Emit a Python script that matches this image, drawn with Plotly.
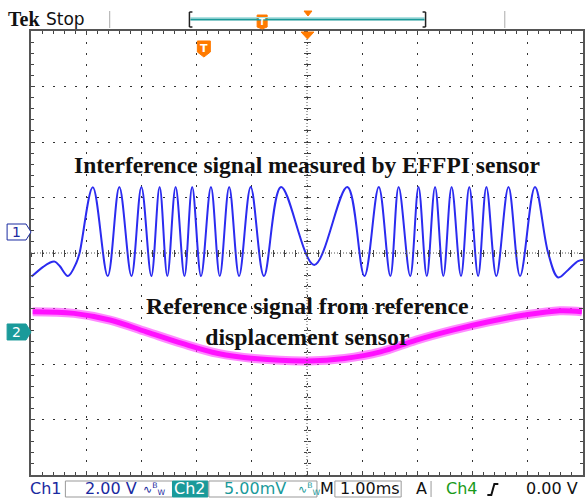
import plotly.graph_objects as go

W, H = 587, 499
L, R, T, B = 31, 585, 31, 475  # graticule edges on the page (px)

# Ch1: interference signal measured by the EFFPI sensor (time in ms, volts)
ch1_t = [-4.99, -4.78, -4.66, -4.57, -4.48, -4.33, -4.18, -4.12, -3.88, -3.61,
         -3.40, -3.18, -3.00, -2.82, -2.67, -2.53, -2.38, -2.22, -2.08, -1.92,
         -1.74, -1.58, -1.41, -1.23, -1.02, -0.78, -0.47, 0.13, 0.73, 1.04,
         1.30, 1.51, 1.66, 1.87, 2.02, 2.17, 2.32, 2.47, 2.62, 2.79,
         2.94, 3.10, 3.25, 3.43, 3.65, 3.86, 4.13, 4.37, 4.55, 4.73, 4.91, 5.00]
ch1_v = [-1.62, -1.27, -1.12, -1.08, -1.24, -1.60, -1.13, -0.77, 1.60, -1.60,
         1.61, -1.60, 1.61, -1.60, 1.61, -1.60, 1.61, -1.60, 1.61, -1.60,
         1.61, -1.60, 1.61, -1.60, 1.61, -1.60, 1.61, -1.20, 1.61, -1.60,
         1.61, -1.60, 1.61, -1.60, 1.61, -1.60, 1.61, -1.60, 1.61, -1.60,
         1.61, -1.60, 1.61, -1.60, 1.61, -1.60, 1.61, -0.78, -1.65, -1.38, -1.06, -1.02]

# Ch2: reference displacement sensor (time in ms, mV)
ch2_t = [-4.97, -4.22, -3.57, -2.91, -2.26, -1.61, -0.96, 0.02, 0.68, 1.33,
         1.98, 2.64, 3.29, 3.94, 4.58, 4.98]
ch2_v = [1.81, 1.66, 1.06, 0.00, -1.05, -1.95, -2.40, -2.62, -2.40, -1.81,
         -0.75, 0.15, 0.90, 1.51, 1.90, 1.81]

ch1_scale, ch1_pos = 2.0, 0.385   # V/div, ground marker position (div)
ch2_scale, ch2_pos = 5.0, -1.42   # mV/div

BLUE = "#2b2bf0"
MAGENTA = "#ff10ff"
TEAL = "#1a9a9a"
ORANGE = "#ff7a00"
DARK_BLUE = "#1a2aa0"
GREEN = "#1a9a1a"


def fx(p):
    return (p - L) / (R - L)


def fy(p):
    return (B - p) / (B - T)


fig = go.Figure()
fig.add_trace(go.Scatter(x=ch2_t, y=ch2_v, yaxis="y2", mode="lines",
                         line=dict(color="rgba(255,60,255,0.6)", width=9, shape="spline"),
                         hoverinfo="skip"))
fig.add_trace(go.Scatter(x=ch2_t, y=ch2_v, yaxis="y2", mode="lines",
                         line=dict(color=MAGENTA, width=5, shape="spline")))
fig.add_trace(go.Scatter(x=ch1_t, y=ch1_v, mode="lines",
                         line=dict(color=BLUE, width=2, shape="spline")))
# empty traces so the centre-cross tick axes get drawn
for xa, ya in [("x2", "y"), ("x3", "y"), ("x", "y3"), ("x", "y4")]:
    fig.add_trace(go.Scatter(x=[], y=[], xaxis=xa, yaxis=ya))

c1 = -ch1_pos * ch1_scale
c2 = -ch2_pos * ch2_scale
edge = dict(showticklabels=False, zeroline=False, showline=True, linecolor="#555",
            linewidth=2, mirror="ticks", ticks="inside", ticklen=4, tickcolor="#444",
            showgrid=True, gridcolor="#333", gridwidth=1, griddash="2px,9px")
fig.update_layout(
    width=W, height=H, margin=dict(l=L, r=W - R, t=T, b=H - B),
    paper_bgcolor="white", plot_bgcolor="white", showlegend=False,
    xaxis=dict(range=[-5, 5], tick0=0, dtick=1,
               minor=dict(tick0=0, dtick=0.2, ticks="inside", ticklen=3, tickcolor="#444"), **edge),
    yaxis=dict(range=[c1 - 4 * ch1_scale, c1 + 4 * ch1_scale], tick0=c1, dtick=ch1_scale,
               minor=dict(tick0=c1, dtick=ch1_scale / 5, ticks="inside", ticklen=3, tickcolor="#444"),
               **edge),
    yaxis2=dict(range=[c2 - 4 * ch2_scale, c2 + 4 * ch2_scale], overlaying="y",
                visible=False),
)
cross = dict(showticklabels=False, showgrid=False, zeroline=False, showline=False,
             ticklen=3, tickcolor="#444", anchor="free", position=0.5)
fig.update_layout(
    xaxis2=dict(overlaying="x", range=[-5, 5], tick0=0, dtick=0.2, ticks="outside", **cross),
    xaxis3=dict(overlaying="x", range=[-5, 5], tick0=0, dtick=0.2, ticks="inside", **cross),
    yaxis3=dict(overlaying="y", range=[-4, 4], tick0=0, dtick=0.2, ticks="outside", **cross),
    yaxis4=dict(overlaying="y", range=[-4, 4], tick0=0, dtick=0.2, ticks="inside", **cross),
)

shapes = [
    # centre cross lines
    dict(type="line", xref="paper", yref="paper", x0=0.5, x1=0.5, y0=0, y1=1,
         line=dict(color="#555", width=1, dash="1px,2px")),
    dict(type="line", xref="paper", yref="paper", x0=0, x1=1, y0=0.5, y1=0.5,
         line=dict(color="#555", width=1, dash="1px,2px")),
]


def path(pts, fill, line, width=1):
    d = "M " + " L ".join(f"{fx(a):.4f},{fy(b):.4f}" for a, b in pts) + " Z"
    return dict(type="path", xref="paper", yref="paper", path=d, fillcolor=fill,
                line=dict(color=line, width=width), layer="above")


def box(x0, y0, x1, y1, fill="rgba(0,0,0,0)", line="#999"):
    return dict(type="rect", xref="paper", yref="paper", x0=fx(x0), x1=fx(x1),
                y0=fy(y1), y1=fy(y0), fillcolor=fill, line=dict(color=line, width=1))


def seg(x0, y0, x1, y1, color, width=1):
    return dict(type="line", xref="paper", yref="paper", x0=fx(x0), x1=fx(x1),
                y0=fy(y0), y1=fy(y1), line=dict(color=color, width=width))


# channel ground markers
shapes.append(path([(7, 224), (26, 224), (31, 232), (26, 240), (7, 240)], "white", DARK_BLUE))
shapes.append(path([(7, 324), (26, 324), (31, 332), (26, 340), (7, 340)], TEAL, TEAL))
# trigger markers
shapes.append(path([(198, 41), (211, 41), (211, 52), (204.5, 57), (198, 52)], ORANGE, ORANGE))
shapes.append(path([(302, 32), (315, 32), (308.5, 39)], ORANGE, ORANGE))
shapes.append(path([(305, 11), (313, 11), (309, 16)], ORANGE, ORANGE))
shapes.append(path([(258, 15), (268, 15), (268, 27), (263, 29), (258, 27)], ORANGE, ORANGE))
# record bar on top
shapes += [
    seg(191, 17.5, 426, 17.5, "#aee3e3", 1),
    seg(191, 19.5, 426, 19.5, TEAL, 2),
    seg(190, 12, 190, 27, "#222", 1.5), seg(190, 12, 193, 12, "#222", 1.5),
    seg(190, 27, 193, 27, "#222", 1.5),
    seg(427, 12, 427, 27, "#222", 1.5), seg(424, 12, 427, 12, "#222", 1.5),
    seg(424, 27, 427, 27, "#222", 1.5),
    seg(110, 11, 110, 28, "#aaa", 1), seg(506.5, 11, 506.5, 28, "#aaa", 1),
]
# readout boxes at the bottom
shapes += [
    box(65.5, 481, 173, 497), box(173, 481, 208.5, 497, fill=TEAL, line=TEAL),
    box(209.5, 481, 318, 497), box(336, 481, 402.5, 497),
    seg(432.5, 481, 432.5, 497, "#999", 1),
    dict(type="path", xref="paper", yref="paper", layer="above",
         path=f"M {fx(489):.4f},{fy(495):.4f} L {fx(493):.4f},{fy(495):.4f} "
              f"L {fx(496):.4f},{fy(484):.4f} L {fx(500):.4f},{fy(484):.4f}",
         line=dict(color="#111", width=2)),
]
fig.update_layout(shapes=shapes)

ann = []


def text(x, y, s, size=16, color="#111", family="DejaVu Sans", anchor="left", bold=False):
    if bold:
        s = f"<b>{s}</b>"
    ann.append(dict(x=fx(x), y=fy(y), xref="paper", yref="paper", text=s, showarrow=False,
                    xanchor=anchor, yanchor="middle", borderpad=0,
                    font=dict(size=size, color=color, family=family)))


serif = "Liberation Serif, Times New Roman, serif"
text(308, 165, "Interference signal measured by EFFPI sensor", size=23.5, family=serif,
     anchor="center", bold=True)
text(309, 321, "Reference signal from reference<br>displacement sensor", size=23.8,
     family=serif, anchor="center", bold=True)

text(7, 19, "Tek", size=20, family=serif, bold=True)
text(45, 19, "Stop", size=17)
text(16.5, 232, "1", size=14, color=DARK_BLUE, anchor="center")
text(16.5, 332, "2", size=14, color="white", anchor="center")
text(204.5, 48, "T", size=11, color="white", anchor="center", bold=True)
text(263, 21.5, "T", size=9, color="white", anchor="center", bold=True)

text(29, 489, "Ch1", color=DARK_BLUE)
text(84, 489, "2.00 V", color=DARK_BLUE)
text(142, 489, "∿<sup>B</sup><sub>W</sub>", size=11, color=DARK_BLUE)
text(190.5, 489, "Ch2", color="white", anchor="center")
text(224, 489, "5.00mV", color=TEAL)
text(298, 489, "∿<sup>B</sup><sub>W</sub>", size=11, color=TEAL)
text(320.5, 489, "M")
text(340, 489, "1.00ms")
text(416, 489, "A")
text(446, 489, "Ch4", color=GREEN)
text(527, 489, "0.00 V")
fig.update_layout(annotations=ann)

fig.write_html("out.html", config={"displayModeBar": False},
               post_script="document.body.style.margin='0';")
